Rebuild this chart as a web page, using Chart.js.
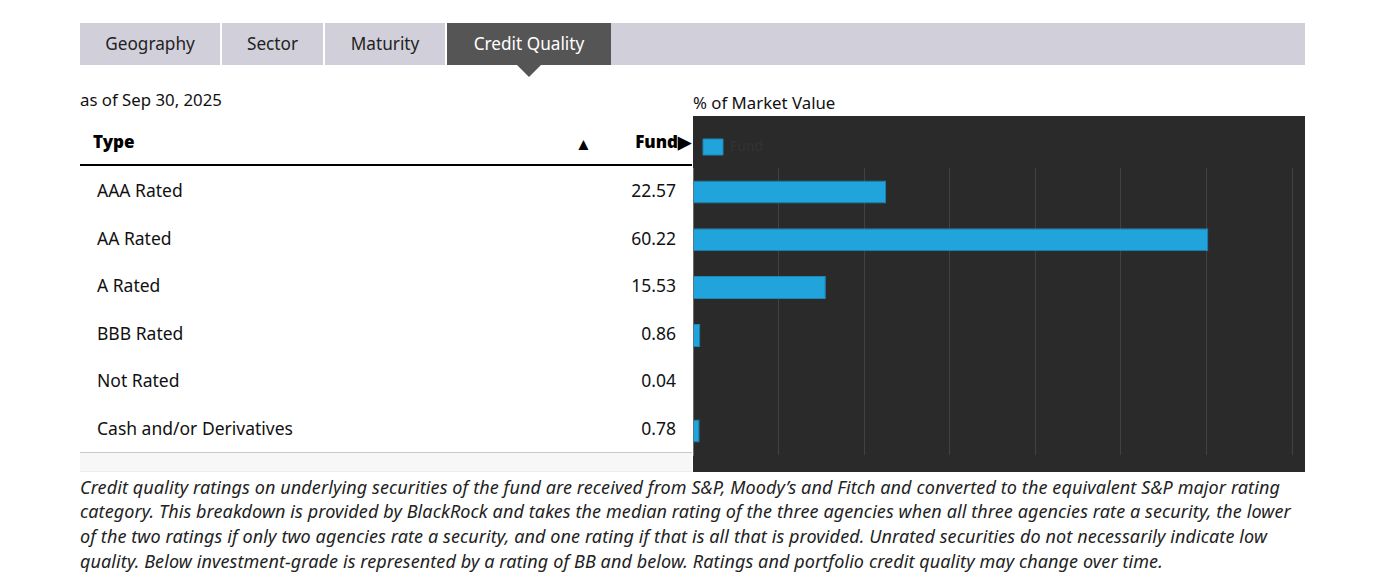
<!DOCTYPE html>
<html>
<head>
<meta charset="utf-8">
<script src="https://cdn.jsdelivr.net/npm/chart.js@4.4.1/dist/chart.umd.min.js"></script>
<style>
  html, body { margin:0; padding:0; background:#fff; }
  body { width:1381px; height:587px; position:relative; overflow:hidden; font-family: "Noto Sans", Roboto, sans-serif; color:#111; }
  .tabs { position:absolute; left:80px; top:23px; width:1225px; height:42px; background:#d1d0da; }
  .tab { position:absolute; top:0; height:42px; line-height:42px; text-align:center; font-size:17.2px; color:#222; border-right:2px solid #fff; box-sizing:border-box; }
  .tab.active { background:#555555; color:#fff; border-right:none; }
  .pointer { position:absolute; left:517px; top:65px; width:0; height:0; border-left:12px solid transparent; border-right:12px solid transparent; border-top:12px solid #555555; }
  .asof { position:absolute; left:80px; top:88px; height:24px; line-height:24px; font-size:16.8px; color:#111; }
  .mv { position:absolute; left:693px; top:91px; height:24px; line-height:24px; font-size:16.8px; color:#111; }
  .thead { position:absolute; left:80px; top:120px; width:612px; height:44px; line-height:44px; border-bottom:2px solid #000; }
  .thead .type { position:absolute; left:13px; top:0; font-size:17px; font-weight:900; color:#000; }
  .thead .arrow { position:absolute; left:495px; top:2px; font-size:17px; color:#000; }
  .thead .fund { position:absolute; right:1px; top:0; font-size:17px; font-weight:900; color:#000; }
  .rows { position:absolute; left:80px; top:167px; width:612px; }
  .row { position:relative; height:47.6px; line-height:47.6px; font-size:17.5px; color:#111; }
  .row .lbl { position:absolute; left:17px; top:0; }
  .row .val { position:absolute; right:16px; top:0; }
  .tfoot { position:absolute; left:80px; top:452px; width:612px; height:18px; border-top:1px solid #c8c8c8; border-bottom:1px solid #ececec; background:#f7f7f7; }
  .chartwrap { position:absolute; left:693px; top:116px; width:612px; height:356px; background:#2a2a2a; }
  .note { position:absolute; left:80px; top:474.5px; width:1240px; font-size:18px; letter-spacing:0.1px; font-style:italic; line-height:24.7px; color:#222; white-space:nowrap; }
</style>
</head>
<body>
<div class="tabs">
  <div class="tab" style="left:0;width:142px;">Geography</div>
  <div class="tab" style="left:142px;width:103px;">Sector</div>
  <div class="tab" style="left:245px;width:122px;">Maturity</div>
  <div class="tab active" style="left:367px;width:164px;">Credit Quality</div>
</div>
<div class="pointer"></div>
<div class="asof">as of Sep 30, 2025</div>
<div class="mv">% of Market Value</div>
<div class="thead"><span class="type">Type</span><span class="arrow">▲</span><span class="fund">Fund▶</span></div>
<div class="rows" id="rows"></div>
<div class="tfoot"></div>
<div class="chartwrap"><canvas id="c"></canvas></div>
<div class="note">Credit quality ratings on underlying securities of the fund are received from S&amp;P, Moody’s and Fitch and converted to the equivalent S&amp;P major rating<br>category. This breakdown is provided by BlackRock and takes the median rating of the three agencies when all three agencies rate a security, the lower<br>of the two ratings if only two agencies rate a security, and one rating if that is all that is provided. Unrated securities do not necessarily indicate low<br>quality. Below investment-grade is represented by a rating of BB and below. Ratings and portfolio credit quality may change over time.</div>
<script>
const categories = ["AAA Rated", "AA Rated", "A Rated", "BBB Rated", "Not Rated", "Cash and/or Derivatives"];
const fundValues = [22.57, 60.22, 15.53, 0.86, 0.04, 0.78];
const seriesName = "Fund";
const axisMin = 0;
const axisMax = 70;
const axisStep = 10;

const rowsEl = document.getElementById('rows');
categories.forEach((c, i) => {
  const r = document.createElement('div');
  r.className = 'row';
  r.innerHTML = '<span class="lbl"></span><span class="val"></span>';
  r.querySelector('.lbl').textContent = c;
  r.querySelector('.val').textContent = fundValues[i].toFixed(2);
  rowsEl.appendChild(r);
});

const legendSpacer = {
  id: 'legendSpacer',
  beforeInit(chart) {
    const origFit = chart.legend.fit;
    chart.legend.fit = function () {
      origFit.bind(chart.legend)();
      this.height += 3;
    };
  }
};

new Chart(document.getElementById('c'), {
  type: 'bar',
  data: {
    labels: categories,
    datasets: [{
      label: seriesName,
      data: fundValues,
      backgroundColor: '#21a3dc',
      borderColor: '#1b86b6',
      borderWidth: 1,
      barPercentage: 0.96,
      categoryPercentage: 0.5
    }]
  },
  plugins: [legendSpacer],
  options: {
    indexAxis: 'y',
    responsive: true,
    maintainAspectRatio: false,
    animation: false,
    layout: { padding: { left: 0, right: 13, top: 13, bottom: 17 } },
    plugins: {
      legend: {
        display: true,
        position: 'top',
        align: 'start',
        labels: { boxWidth: 20, boxHeight: 16, padding: 10, color: '#333333', font: { family: 'Noto Sans', size: 14 } }
      },
      tooltip: { enabled: false }
    },
    scales: {
      x: {
        min: axisMin, max: axisMax,
        ticks: { display: false, stepSize: axisStep },
        grid: { color: '#414141', lineWidth: 1, drawTicks: false },
        border: { display: false }
      },
      y: {
        ticks: { display: false },
        grid: { display: false, drawTicks: false },
        border: { display: true, color: '#6a6a6a', width: 1 }
      }
    }
  }
});
</script>
</body>
</html>
